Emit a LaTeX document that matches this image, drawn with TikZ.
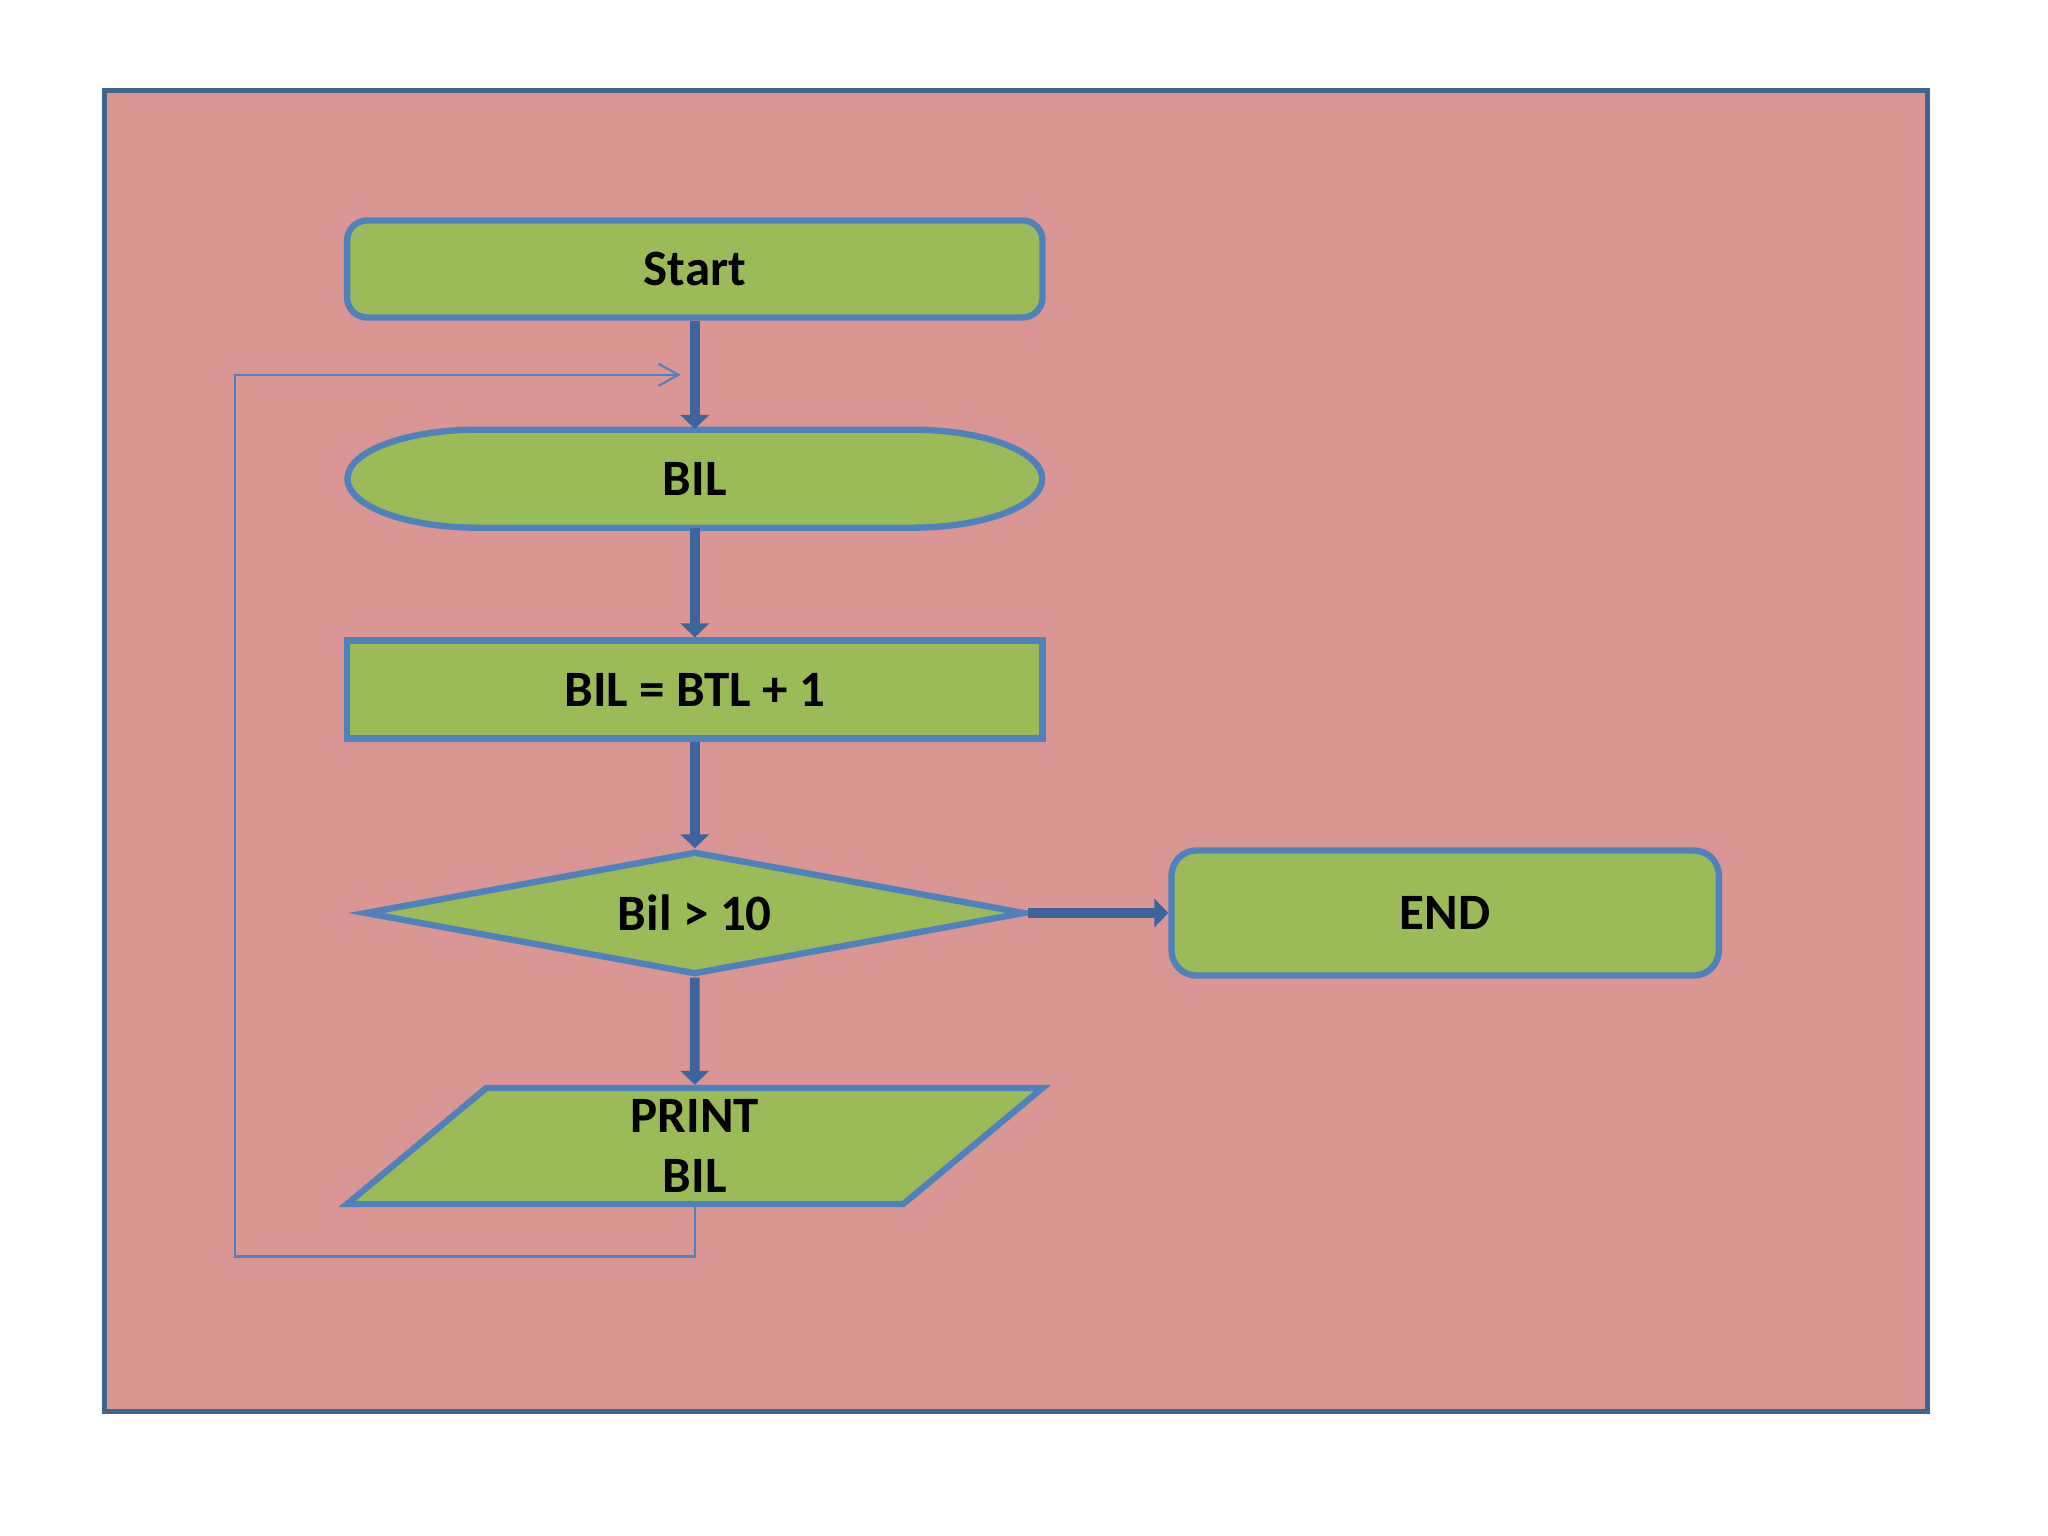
\documentclass[tikz,border=0pt]{standalone}
\usepackage{fontspec}
\setmainfont{Carlito}
\usetikzlibrary{arrows.meta,shapes.geometric,calc}

\definecolor{panelpink}{HTML}{D99694}
\definecolor{boxgreen}{HTML}{9BBB59}
\definecolor{boxblue}{HTML}{4F81BD}
\definecolor{flowblue}{HTML}{3D659B}
\definecolor{frameblue}{HTML}{41648F}

\begin{document}
\begin{tikzpicture}[x=0.01cm,y=0.01cm,
    font=\fontsize{14.5}{17.3}\selectfont\bfseries,
    box/.style={draw=boxblue,fill=boxgreen,line width=1.8pt,inner sep=0pt,align=center},
    flow/.style={draw=flowblue,line width=2.8pt,-{Triangle[length=0.14cm,width=0.28cm]}},
    loopline/.style={draw=boxblue,line width=0.6pt,-{Straight Barb[length=0.2cm,width=0.22cm]}}]
  \useasboundingbox (0,0) rectangle (2048,1536);
  \draw[frameblue,fill=panelpink,line width=1.4pt] (104.5,124.1) rectangle (1927.8,1445.9);

  \node[box,rounded corners=0.2cm,minimum width=6.95cm,minimum height=0.97cm] (start) at (694.8,1267) {Start};

  % terminal with elliptic ends
  \coordinate (bilc) at (694.8,1057.3);
  \draw[box] ($(bilc)+(-217.4,49)$) -- ($(bilc)+(217.4,49)$)
    arc[start angle=90,end angle=-90,x radius=130,y radius=49]
    -- ($(bilc)+(-217.4,-49)$)
    arc[start angle=270,end angle=90,x radius=130,y radius=49] -- cycle;
  \node[inner sep=0pt,minimum width=6.95cm,minimum height=0.98cm] (bil) at (bilc) {BIL};

  \node[box,minimum width=6.95cm,minimum height=0.98cm] (incr) at (694.8,846.4) {BIL = BTL + 1};
  \node[box,diamond,aspect=5.5,minimum width=6.6cm,minimum height=1.23cm] (test) at (694.8,623) {Bil > 10};
  \node[box,rounded corners=0.25cm,minimum width=5.47cm,minimum height=1.25cm] (done) at (1445.2,623) {END};
  \node[box,trapezium,trapezium left angle=34,trapezium right angle=146,trapezium stretches body,
    minimum width=6.95cm,minimum height=1.16cm] (print) at (694.8,390) {PRINT\\BIL};

  \draw[flow] (start) -- (bil);
  \draw[flow] (bil) -- (incr);
  \draw[flow] (incr) -- (test);
  \draw[flow] (test) -- (print);
  \draw[flow] (test.east) -- (done.west);

  % loop back
  \coordinate (loopin) at ($(start.south)!0.5!(bil.north)$);
  \coordinate (loopbottom) at (235.1,279.5);
  \draw[loopline,shorten >=4pt] (print.south) |- (loopbottom) |- (loopin);
\end{tikzpicture}
\end{document}
